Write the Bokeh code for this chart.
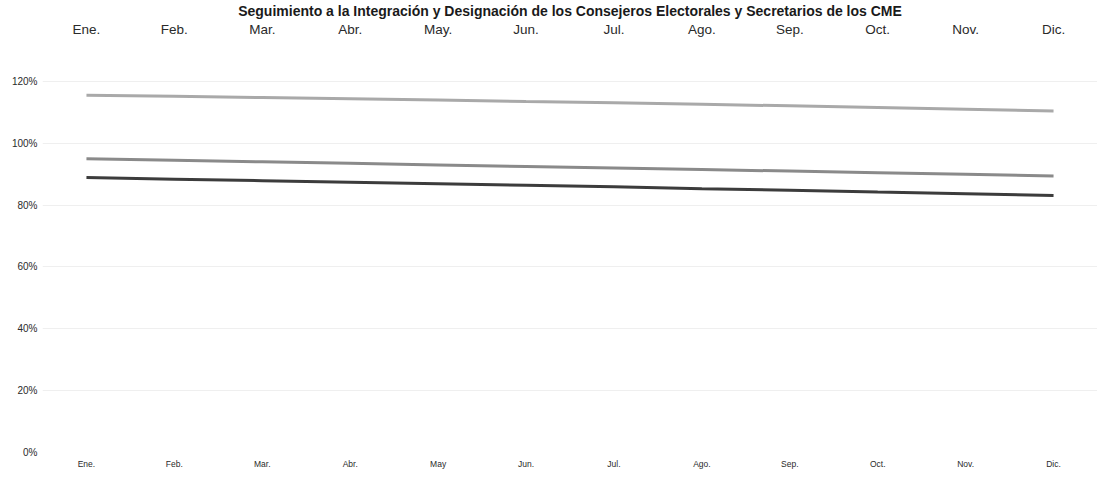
from bokeh.plotting import figure
from bokeh.models import Range1d, FixedTicker, LinearAxis, PrintfTickFormatter, Title
from bokeh.embed import file_html
from bokeh.resources import INLINE

title_text = "Seguimiento a la Integración y Designación de los Consejeros Electorales y Secretarios de los CME"
months_bottom = ["Ene.", "Feb.", "Mar.", "Abr.", "May", "Jun.", "Jul.", "Ago.", "Sep.", "Oct.", "Nov.", "Dic."]
months_top = ["Ene.", "Feb.", "Mar.", "Abr.", "May.", "Jun.", "Jul.", "Ago.", "Sep.", "Oct.", "Nov.", "Dic."]
y_ticks = [0, 20, 40, 60, 80, 100, 120]

serie_1 = [115.5, 115.2, 114.8, 114.4, 114.0, 113.5, 113.1, 112.6, 112.1, 111.6, 111.0, 110.4]
serie_2 = [95.0, 94.5, 94.0, 93.5, 93.0, 92.5, 92.0, 91.5, 91.0, 90.5, 90.0, 89.4]
serie_3 = [88.9, 88.4, 87.9, 87.4, 86.9, 86.4, 85.9, 85.3, 84.8, 84.2, 83.7, 83.1]

x = list(range(len(months_bottom)))

p = figure(frame_width=1055, frame_height=415, output_backend="svg", toolbar_location=None,
           x_range=Range1d(-0.5, 11.5), y_range=Range1d(0, 134.2),
           min_border_left=42, min_border_right=0, min_border_top=0, min_border_bottom=0,
           x_axis_location=None, y_axis_location=None)
p.outline_line_color = None
p.background_fill_color = "white"
p.border_fill_color = "white"

ax_top = LinearAxis(ticker=FixedTicker(ticks=x),
                    major_label_overrides={i: m for i, m in enumerate(months_top)})
ax_bot = LinearAxis(ticker=FixedTicker(ticks=x),
                    major_label_overrides={i: m for i, m in enumerate(months_bottom)})
ax_y = LinearAxis(ticker=FixedTicker(ticks=y_ticks), formatter=PrintfTickFormatter(format="%d%%"))

for ax, fs in ((ax_top, "13.5px"), (ax_bot, "8.5px"), (ax_y, "10px")):
    ax.axis_line_color = None
    ax.major_tick_line_color = None
    ax.minor_tick_line_color = None
    ax.major_tick_out = 0
    ax.major_tick_in = 0
    ax.major_label_text_font = "Liberation Sans"
    ax.major_label_text_font_size = fs
    ax.major_label_text_color = "#2a2a2a"
ax_top.major_label_standoff = 1
ax_bot.major_label_standoff = 6
ax_y.major_label_standoff = 5

p.add_layout(ax_top, "above")
p.add_layout(Title(text=title_text, align="center", text_font_size="14px",
                   text_font_style="bold", text_font="Liberation Sans",
                   text_color="#1a1a1a", standoff=0), "above")
p.add_layout(ax_bot, "below")
p.add_layout(ax_y, "left")

p.xgrid.grid_line_color = None
p.ygrid.ticker = FixedTicker(ticks=y_ticks)
p.ygrid.grid_line_color = "#efefef"
p.ygrid.grid_line_width = 1

p.line(x, serie_1, line_color="#a9a9a9", line_width=3)
p.line(x, serie_2, line_color="#8a8a8a", line_width=3)
p.line(x, serie_3, line_color="#3c3c3c", line_width=3)

open("out.html", "w").write(file_html(p, INLINE))
